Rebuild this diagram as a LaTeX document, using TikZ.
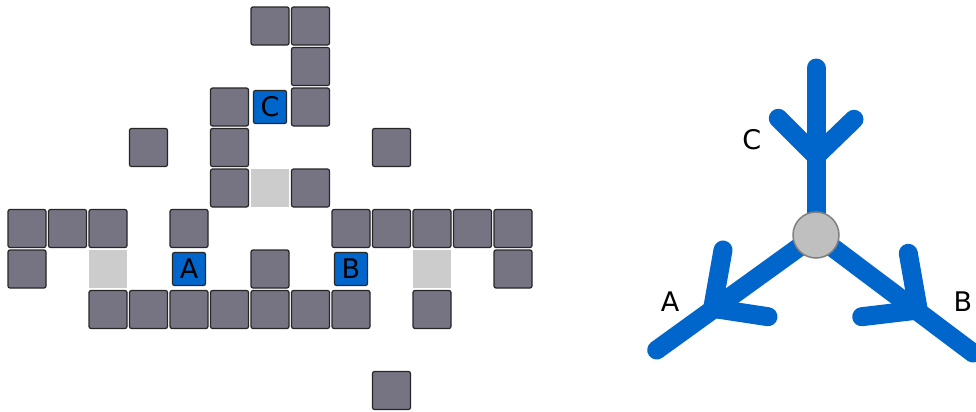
\documentclass[tikz,border=0pt]{standalone}
\usepackage{fontspec}
\setmainfont{DejaVu Sans}
\definecolor{wallgray}{HTML}{767482}
\definecolor{floorgray}{HTML}{CCCCCC}
\definecolor{agentblue}{HTML}{0066CC}
\tikzset{
  wall/.style={draw=black!85, fill=wallgray, line width=0.6pt, rounded corners=1pt,
    minimum size=19pt, inner sep=0pt},
  floor/.style={fill=floorgray, minimum size=19pt, inner sep=0pt},
  agent/.style={draw=black!85, fill=agentblue, line width=0.6pt, rounded corners=1pt,
    minimum size=16.5pt, inner sep=0pt, font=\fontsize{13.5pt}{16pt}\selectfont},
  branch/.style={agentblue, line width=9.5pt, line cap=round, line join=round},
  hubnode/.style={circle, draw=gray, fill=gray!50, line width=0.75pt,
    minimum size=23pt, inner sep=0pt},
  tag/.style={font=\fontsize{13.5pt}{16pt}\selectfont}
}
\begin{document}
\begin{tikzpicture}[x=0.5pt, y=-0.5pt]
  \useasboundingbox (0,0) rectangle (976,412);
  % Grid world: cell (c,r) centre at 27+40.5c, 26+40.5r
  \foreach \c/\r in {6/0,7/0, 7/1, 5/2,7/2, 3/3,5/3,9/3, 5/4,7/4,
      0/5,1/5,2/5,4/5,8/5,9/5,10/5,11/5,12/5,
      0/6,6/6,12/6,
      2/7,3/7,4/7,5/7,6/7,7/7,8/7,10/7, 9/9} {
    \node[wall] (w\c-\r) at ({27+40.5*\c},{26+40.5*\r}) {};
  }
  % Free goal cells
  \foreach \c/\r in {6/4, 2/6, 10/6} {
    \node[floor] (f\c-\r) at ({27+40.5*\c},{26+40.5*\r}) {};
  }
  % Agents
  \node[agent] (agC) at ({27+40.5*6},{26+40.5*2}) {C};
  \node[agent] (agA) at ({27+40.5*4},{26+40.5*6}) {A};
  \node[agent] (agB) at ({27+40.5*8},{26+40.5*6}) {B};

  % Interaction graph
  \coordinate (hub) at (816,235);
  \coordinate (endC) at (816,68);
  \coordinate (endA) at (656.7,350);
  \coordinate (endB) at (973,353);
  \coordinate (tipC) at (816,156);
  \coordinate (tipA) at (712.7,308.3);
  \coordinate (tipB) at (918.3,310);
  \draw[branch] (hub) -- (endC);
  \draw[branch] (hub) -- (endA);
  \draw[branch] (hub) -- (endB);
  % V heads
  \draw[branch] (778.3,118.3) -- (tipC) -- (854,119.3);
  \draw[branch] (723,250) -- (tipA) -- (768,316.7);
  \draw[branch] (908.3,253.3) -- (tipB) -- (861.7,316.7);
  \node[hubnode] (hubc) at (hub) {};
  % Labels
  \node[tag] (labC) at (751.7,140) {C};
  \node[tag] (labA) at (670,301.7) {A};
  \node[tag] (labB) at (963,301.7) {B};
\end{tikzpicture}
\end{document}
